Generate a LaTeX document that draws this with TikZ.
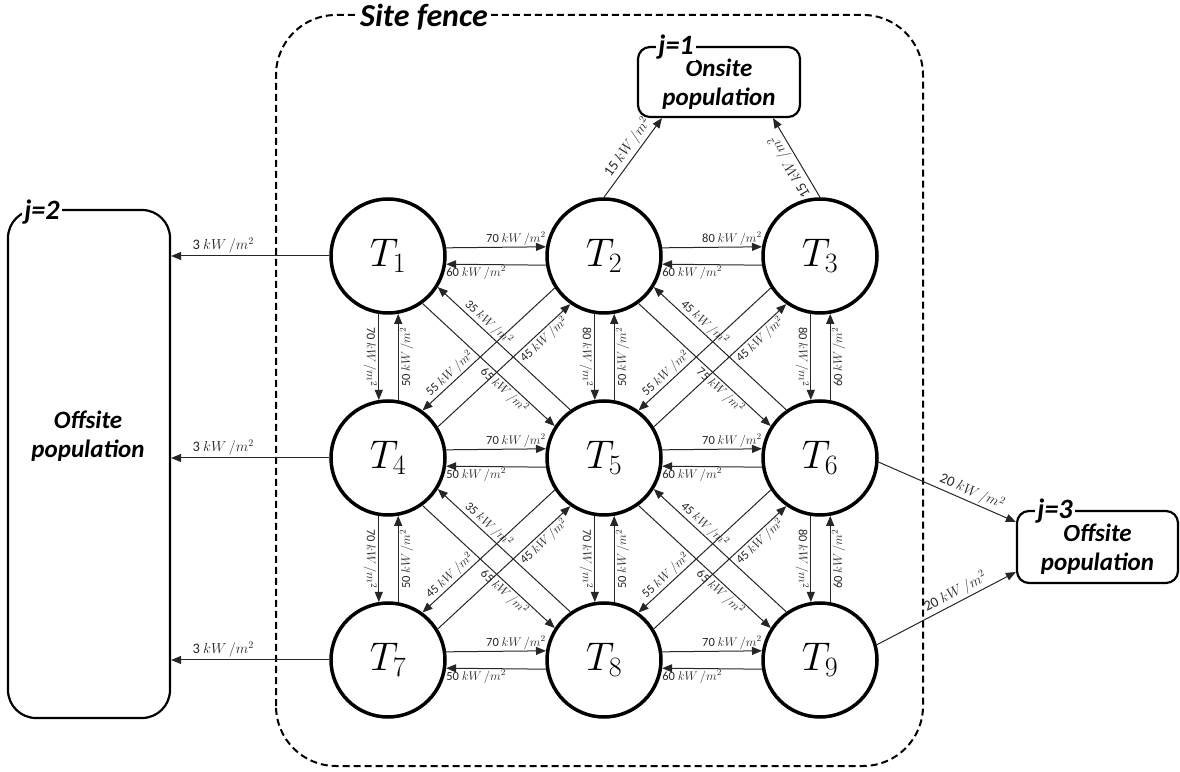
\documentclass[tikz,border=0pt]{standalone}
\usepackage{fix-cm}
\usepackage{fontspec}
\setmainfont{Carlito}
\usetikzlibrary{arrows.meta,calc}
\newcommand\kw[1]{#1 $kW\,/m^2$}
\newcommand\hR[3]{\draw[flow] (#1.8.6) -- node[lab,pos=0.7,above]{\kw{#3}} (#2.171.4);}
\newcommand\hL[3]{\draw[flow] (#1.-171.4) -- node[lab,pos=0.7,below]{\kw{#3}} (#2.-8.6);}
\newcommand\vD[3]{\draw[flow] (#1.-99.1) -- node[lab,pos=0.5,rotate=-90,anchor=north]{\kw{#3}} (#2.99.1);}
\newcommand\vU[3]{\draw[flow] (#1.80.9) -- node[lab,pos=0.5,rotate=90,anchor=north]{\kw{#3}} (#2.-80.9);}
\newcommand\dDR[3]{\draw[flow] (#1.-54.1) -- node[lab,pos=0.66,sloped,below]{\kw{#3}} (#2.147.9);}
\newcommand\dUL[3]{\draw[flow] (#1.125.9) -- node[lab,pos=0.66,sloped,above]{\kw{#3}} (#2.-32.1);}
\newcommand\dDL[3]{\draw[flow] (#1.-147.9) -- node[lab,pos=0.75,sloped,above]{\kw{#3}} (#2.54.1);}
\newcommand\dUR[3]{\draw[flow] (#1.32.1) -- node[lab,pos=0.76,sloped,below]{\kw{#3}} (#2.-125.9);}
\begin{document}
\begin{tikzpicture}[x=1pt,y=1pt,
  tank/.style={circle,draw,line width=3.5pt,minimum size=114pt,inner sep=0pt,font=\fontsize{40}{44}\selectfont},
  flow/.style={draw=black!85,line width=1pt,-{Triangle[length=10pt,width=8pt]}},
  lab/.style={font=\fontsize{12.5}{13}\selectfont,inner sep=1.2pt,text=black!85},
  blab/.style={font=\fontsize{14.5}{15}\selectfont,inner sep=2pt,text=black!85},
  popbox/.style={draw,line width=2.2pt,inner sep=0pt},
  jlab/.style={fill=white,inner sep=2pt,font=\bfseries\itshape\fontsize{28}{30}\selectfont},
  poptext/.style={align=center,font=\bfseries\itshape\fontsize{25}{29}\selectfont},
]
\useasboundingbox (0,0) rectangle (1180,771);
% site fence
\draw[dash pattern=on 7pt off 4pt, line width=2pt, rounded corners=60pt] (276,5) rectangle (923,756);
\node[fill=white,font=\bfseries\itshape\fontsize{32}{34}\selectfont,inner sep=3pt] (fence) at (424,754) {Site fence};
% population boxes
\node[popbox,rounded corners=12pt,minimum width=162pt,minimum height=70pt] (j1) at (719,689) {};
\node[poptext] (j1t) at (719,687) {Onsite\\population};
\node[jlab] (j1l) at (676,724) {j=1};
\node[popbox,rounded corners=28pt,minimum width=162pt,minimum height=508pt] (j2) at (89,307) {};
\node[poptext] (j2t) at (88,335) {Offsite\\population};
\node[jlab] (j2l) at (42,559) {j=2};
\node[popbox,rounded corners=12pt,minimum width=161pt,minimum height=72pt] (j3) at (1097.5,224) {};
\node[poptext] (j3t) at (1097.5,222) {Offsite\\population};
\node[jlab] (j3l) at (1055,260) {j=3};
% tanks
\node[tank] (T1) at (388,515) {$T_1$};
\node[tank] (T2) at (604,515) {$T_2$};
\node[tank] (T3) at (820,515) {$T_3$};
\node[tank] (T4) at (388,313) {$T_4$};
\node[tank] (T5) at (604,313) {$T_5$};
\node[tank] (T6) at (820,313) {$T_6$};
\node[tank] (T7) at (388,111) {$T_7$};
\node[tank] (T8) at (604,111) {$T_8$};
\node[tank] (T9) at (820,111) {$T_9$};
% horizontal
\hR{T1}{T2}{70} \hL{T2}{T1}{60}
\hR{T2}{T3}{80} \hL{T3}{T2}{60}
\hR{T4}{T5}{70} \hL{T5}{T4}{50}
\hR{T5}{T6}{70} \hL{T6}{T5}{60}
\hR{T7}{T8}{70} \hL{T8}{T7}{50}
\hR{T8}{T9}{70} \hL{T9}{T8}{60}
% vertical
\vD{T1}{T4}{70} \vU{T4}{T1}{50}
\vD{T2}{T5}{80} \vU{T5}{T2}{50}
\vD{T3}{T6}{80} \vU{T6}{T3}{60}
\vD{T4}{T7}{70} \vU{T7}{T4}{50}
\vD{T5}{T8}{70} \vU{T8}{T5}{50}
\vD{T6}{T9}{80} \vU{T9}{T6}{60}
% diagonals
\dDR{T1}{T5}{65} \dUL{T5}{T1}{35} \dDL{T2}{T4}{55} \dUR{T4}{T2}{45}
\dDR{T2}{T6}{75} \dUL{T6}{T2}{45} \dDL{T3}{T5}{55} \dUR{T5}{T3}{45}
\dDR{T4}{T8}{65} \dUL{T8}{T4}{35} \dDL{T5}{T7}{45} \dUR{T7}{T5}{45}
\dDR{T5}{T9}{65} \dUL{T9}{T5}{45} \dDL{T6}{T8}{55} \dUR{T8}{T6}{45}
% to populations
\draw[flow] (T1.west) -- node[blab,pos=0.67,above]{\kw{3}} (T1.west -| j2.east);
\draw[flow] (T4.west) -- node[blab,pos=0.67,above]{\kw{3}} (T4.west -| j2.east);
\draw[flow] (T7.west) -- node[blab,pos=0.67,above]{\kw{3}} (T7.west -| j2.east);
\draw[flow] (T2.north) -- node[blab,pos=0.55,sloped,above]{\kw{15}} ([xshift=-57pt]j1.south);
\draw[flow] (T3.north) -- node[blab,pos=0.45,rotate=120,anchor=south]{\kw{15}} ([xshift=54pt]j1.south);
\draw[flow] (T6.-4) -- node[blab,pos=0.65,sloped,above]{\kw{20}} ([yshift=25pt]j3.west);
\draw[flow] (T9.15) -- node[blab,pos=0.6,sloped,above]{\kw{20}} ([yshift=-25pt]j3.west);
\end{tikzpicture}
\end{document}
